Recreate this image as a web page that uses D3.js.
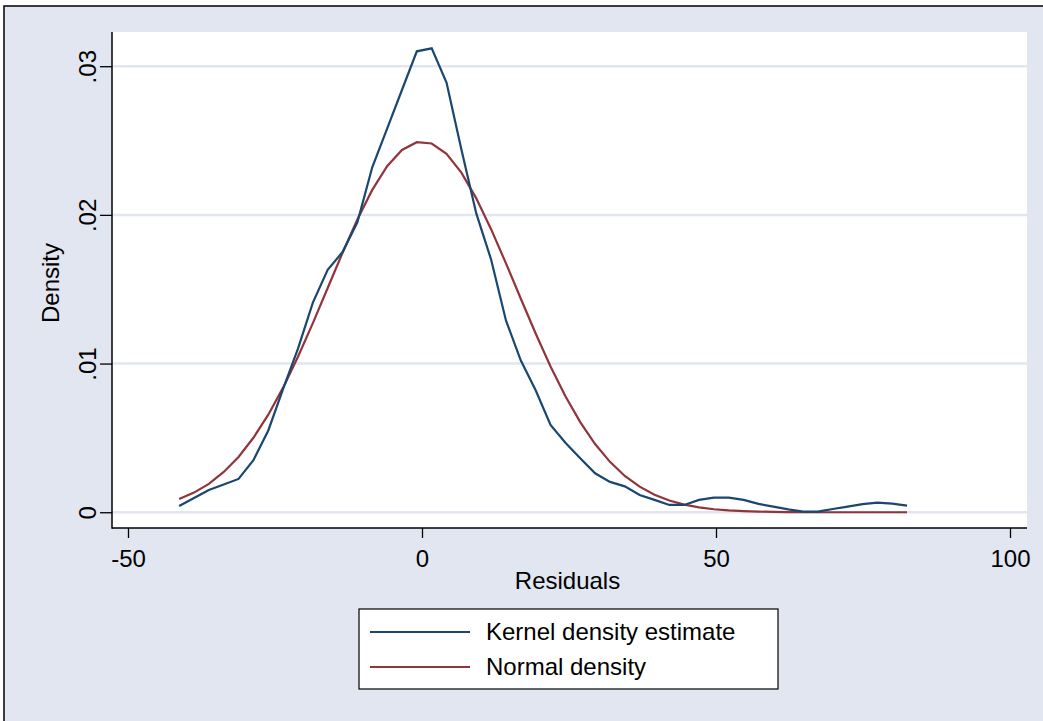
<!DOCTYPE html>
<html>
<head>
<meta charset="utf-8">
<script src="https://cdn.jsdelivr.net/npm/d3@7"></script>
<style>
  body { margin: 0; background: #fff; }
  text { font-family: "Liberation Sans", Arial, Helvetica, sans-serif; fill: #000; }
</style>
</head>
<body>
<div id="chart"></div>
<script>
// residual values where both densities were evaluated
const residuals = [-41.30, -38.77, -36.25, -33.72, -31.20, -28.67, -26.14, -23.62, -21.09, -18.56,
  -16.04, -13.51, -10.99, -8.46, -5.93, -3.41, -0.88, 1.65, 4.17, 6.70,
  9.23, 11.75, 14.28, 16.81, 19.33, 21.86, 24.39, 26.91, 29.44, 31.97,
  34.49, 37.02, 39.54, 42.07, 44.60, 47.12, 49.65, 52.18, 54.70, 57.23,
  59.76, 62.28, 64.81, 67.34, 69.86, 72.39, 74.92, 77.44, 79.97, 82.49];

const kernelDensity = [0.00042, 0.00096, 0.00150, 0.00186, 0.00224, 0.00350, 0.00550, 0.00830, 0.01100, 0.01410,
  0.01630, 0.01750, 0.01950, 0.02320, 0.02580, 0.02840, 0.03100, 0.03120, 0.02890, 0.02440,
  0.02010, 0.01700, 0.01290, 0.01020, 0.00820, 0.00587, 0.00467, 0.00363, 0.00262, 0.00204,
  0.00174, 0.00116, 0.00083, 0.00049, 0.00049, 0.00083, 0.00098, 0.00098, 0.00083, 0.00056,
  0.00038, 0.00019, 0.00004, 0.00004, 0.00022, 0.00038, 0.00054, 0.00065, 0.00058, 0.00044];

const normalDensity = [0.00089, 0.00132, 0.00191, 0.00271, 0.00372, 0.00501, 0.00656, 0.00838, 0.01046, 0.01272,
  0.01508, 0.01745, 0.01969, 0.02168, 0.02327, 0.02437, 0.02489, 0.02480, 0.02410, 0.02284,
  0.02111, 0.01904, 0.01674, 0.01436, 0.01202, 0.00980, 0.00780, 0.00606, 0.00459, 0.00339,
  0.00244, 0.00172, 0.00118, 0.00079, 0.00051, 0.00033, 0.00020, 0.00012, 0.00007, 0.00004,
  0.00002, 0.00001, 0.00001, 0, 0, 0, 0, 0, 0, 0];

const xTicks = [-50, 0, 50, 100];
const xTickLabels = ['-50', '0', '50', '100'];
const yTicks = [0, 0.01, 0.02, 0.03];
const yTickLabels = ['0', '.01', '.02', '.03'];
const seriesNames = ['Kernel density estimate', 'Normal density'];

const blue = '#1a476f', red = '#90353b';
const bg = '#e1e6f0';

const svg = d3.select('#chart').append('svg')
    .attr('width', 1043).attr('height', 721);

// graph region with frame
svg.append('rect')
    .attr('x', 4).attr('y', 6)
    .attr('width', 1100).attr('height', 800)
    .attr('fill', bg)
    .attr('stroke', '#000')
    .attr('stroke-width', 1.5);

const plot = {left: 112, right: 1027, top: 32, bottom: 528};

const x = d3.scaleLinear().domain([-52.72, 102.89]).range([plot.left, plot.right]);
const y = d3.scaleLinear().domain([-0.00106, 0.0323]).range([plot.bottom, plot.top]);

svg.append('rect')
    .attr('x', plot.left).attr('y', plot.top)
    .attr('width', plot.right - plot.left)
    .attr('height', plot.bottom - plot.top)
    .attr('fill', '#fff');

// gridlines
svg.append('g').selectAll('line')
    .data(yTicks)
    .join('line')
    .attr('x1', plot.left).attr('x2', plot.right)
    .attr('y1', d => y(d)).attr('y2', d => y(d))
    .attr('stroke', bg)
    .attr('stroke-width', 2.5);

// axes
const xAxis = d3.axisBottom(x).tickValues(xTicks).tickSize(10).tickPadding(5)
    .tickFormat((d, i) => xTickLabels[i]);
const gx = svg.append('g')
    .attr('transform', 'translate(0,' + plot.bottom + ')')
    .call(xAxis);
gx.select('.domain').remove();
gx.selectAll('.tick line').attr('stroke', '#000').attr('stroke-width', 1.3);
gx.selectAll('.tick text')
    .attr('font-size', 24)
    .attr('dy', null)
    .attr('y', 39);

const yAxis = d3.axisLeft(y).tickValues(yTicks).tickSize(12)
    .tickFormat((d, i) => yTickLabels[i]);
const gy = svg.append('g')
    .attr('transform', 'translate(' + plot.left + ',0)')
    .call(yAxis);
gy.select('.domain').remove();
gy.selectAll('.tick line').attr('stroke', '#000').attr('stroke-width', 1.3);
gy.selectAll('.tick text')
    .attr('font-size', 24)
    .attr('x', null).attr('dy', null)
    .attr('text-anchor', 'middle')
    .attr('transform', 'translate(-16,0) rotate(-90)');

svg.append('line')
    .attr('x1', plot.left).attr('x2', plot.left)
    .attr('y1', plot.top).attr('y2', plot.bottom + 0.75)
    .attr('stroke', '#000').attr('stroke-width', 1.5);
svg.append('line')
    .attr('x1', plot.left).attr('x2', plot.right)
    .attr('y1', plot.bottom).attr('y2', plot.bottom)
    .attr('stroke', '#000').attr('stroke-width', 1.5);

// axis titles
svg.append('text')
    .attr('x', (plot.left + plot.right) / 2 - 2)
    .attr('y', 589)
    .attr('text-anchor', 'middle')
    .attr('font-size', 24)
    .text('Residuals');

svg.append('text')
    .attr('transform', 'translate(59,' + ((plot.top + plot.bottom) / 2 + 3) + ') rotate(-90)')
    .attr('text-anchor', 'middle')
    .attr('font-size', 24)
    .text('Density');

// curves
const line = d3.line()
    .x(d => x(d.v))
    .y(d => y(d.d));

const kdeData = residuals.map((v, i) => ({v, d: kernelDensity[i]}));
const normData = residuals.map((v, i) => ({v, d: normalDensity[i]}));

svg.append('path')
    .datum(normData)
    .attr('fill', 'none')
    .attr('stroke', red)
    .attr('stroke-width', 2.2)
    .attr('d', line);

svg.append('path')
    .datum(kdeData)
    .attr('fill', 'none')
    .attr('stroke', blue)
    .attr('stroke-width', 2.2)
    .attr('d', line);

// legend
const legend = svg.append('g');
legend.append('rect')
    .attr('x', 359).attr('y', 609)
    .attr('width', 419).attr('height', 80)
    .attr('fill', '#fff')
    .attr('stroke', '#000')
    .attr('stroke-width', 1.2);

const legendColors = [blue, red];
const legendRows = legend.selectAll('g.row')
    .data(seriesNames)
    .join('g')
    .attr('class', 'row')
    .attr('transform', (d, i) => 'translate(0,' + (632 + i * 35) + ')');

legendRows.append('line')
    .attr('x1', 370).attr('x2', 470)
    .attr('y1', 0).attr('y2', 0)
    .attr('stroke', (d, i) => legendColors[i])
    .attr('stroke-width', 2.2);

legendRows.append('text')
    .attr('x', 486)
    .attr('y', 8)
    .attr('font-size', 24)
    .text(d => d);
</script>
</body>
</html>
